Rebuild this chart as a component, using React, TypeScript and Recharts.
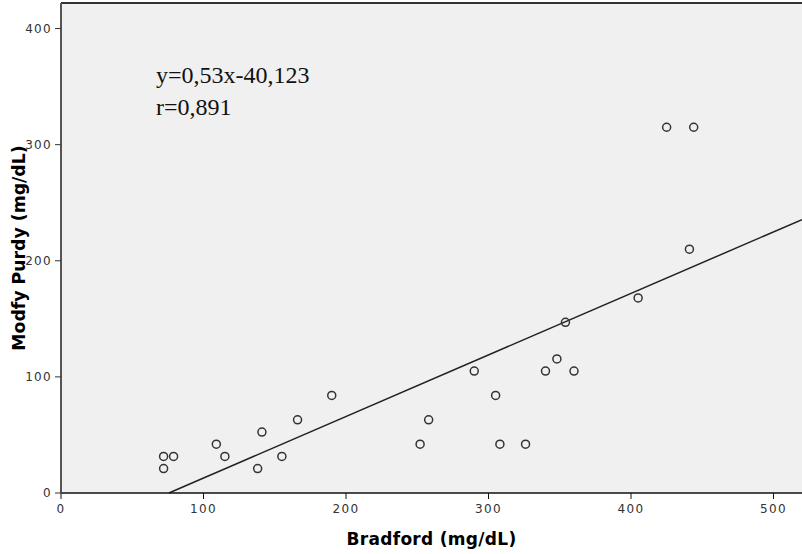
import {
  CartesianGrid,
  ReferenceLine,
  Scatter,
  ScatterChart,
  XAxis,
  YAxis,
} from "recharts";

// Bradford vs. modified Purdy readings (mg/dL)
const bradford = [
  72, 79, 72, 109, 115, 141, 138, 155, 166, 190, 252, 258, 290, 305, 308, 326,
  340, 348, 360, 354, 425, 444, 441, 405,
];
const purdy = [
  31.5, 31.5, 21, 42, 31.5, 52.5, 21, 31.5, 63, 84, 42, 63, 105, 84, 42, 42,
  105, 115.5, 105, 147, 315, 315, 210, 168,
];

const xTicks = [0, 100, 200, 300, 400, 500];
const yTicks = [0, 100, 200, 300, 400];

// fitted line: y = 0.53x - 40.123
const slope = 0.53;
const intercept = -40.123;
const xMax = 520;
const yMax = 422;

const points = bradford.map((x, i) => ({ x, y: purdy[i] }));
const fitStart = { x: -intercept / slope, y: 0 };
const fitEnd = { x: xMax, y: slope * xMax + intercept };

const tickStyle = {
  fontFamily: "DejaVu Sans",
  fontSize: 12,
  letterSpacing: 1.3,
  fill: "#333",
};

const titleStyle = {
  fontFamily: "DejaVu Sans",
  fontWeight: "bold",
  fontSize: 17,
  fill: "#000",
};

const ringShape = (props: any) => (
  <circle
    cx={props.cx}
    cy={props.cy}
    r={4}
    fill="none"
    stroke="#333"
    strokeWidth={1.5}
  />
);

export default function App() {
  return (
    <div style={{ position: "absolute", left: 0, top: 0, background: "#fff" }}>
      <ScatterChart
        width={802}
        height={554}
        margin={{ top: 3, right: 0, bottom: 0, left: 0 }}
      >
        <CartesianGrid
          fill="#f0f0f0"
          stroke="none"
          horizontal={false}
          vertical={false}
        />
        <XAxis
          type="number"
          dataKey="x"
          domain={[0, xMax]}
          ticks={xTicks}
          allowDataOverflow
          height={61}
          tick={tickStyle}
          tickSize={6}
          tickMargin={5}
          axisLine={{ stroke: "#111", strokeWidth: 1.5 }}
          tickLine={{ stroke: "#111" }}
          label={{
            value: "Bradford (mg/dL)",
            position: "insideBottom",
            offset: 9,
            style: { ...titleStyle, letterSpacing: 0.3 },
          }}
        />
        <YAxis
          type="number"
          dataKey="y"
          domain={[0, yMax]}
          ticks={yTicks}
          allowDataOverflow
          width={61}
          tick={tickStyle}
          tickSize={6}
          tickMargin={3}
          axisLine={{ stroke: "#555", strokeWidth: 2 }}
          tickLine={{ stroke: "#333" }}
          label={{
            value: "Modfy Purdy (mg/dL)",
            angle: -90,
            position: "insideLeft",
            offset: 19,
            style: { ...titleStyle, fontSize: 17.3, textAnchor: "middle" },
          }}
        />
        <ReferenceLine y={yMax} stroke="#333" strokeWidth={2} />
        <ReferenceLine
          segment={[fitStart, fitEnd]}
          stroke="#222"
          strokeWidth={1.5}
        />
        <Scatter
          data={points}
          shape={ringShape}
          isAnimationActive={false}
        />
      </ScatterChart>
      <div
        style={{
          position: "absolute",
          left: 156,
          top: 59,
          fontFamily: "Liberation Serif",
          fontSize: 24,
          lineHeight: "32px",
          color: "#111",
        }}
      >
        <div>y=0,53x-40,123</div>
        <div>r=0,891</div>
      </div>
    </div>
  );
}
